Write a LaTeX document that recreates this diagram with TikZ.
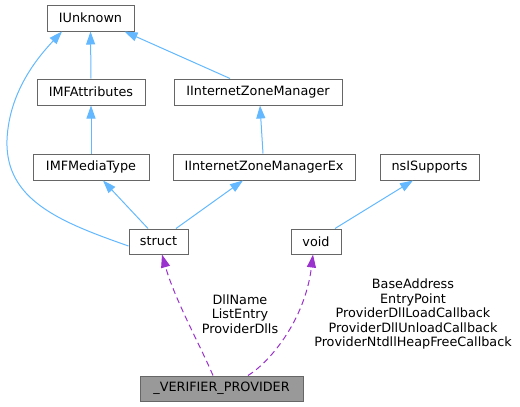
\documentclass[tikz,border=0pt]{standalone}
\usepackage{fontspec}
\setmainfont{DejaVu Sans}
\usetikzlibrary{arrows.meta}
\definecolor{edgeblue}{HTML}{63B8FF}
\definecolor{edgepurple}{HTML}{9A32CD}
\definecolor{boxborder}{HTML}{666666}
\definecolor{boxgray}{HTML}{999999}
\tikzset{
  cls/.style={draw=boxborder, line width=1pt, fill=white, rectangle, minimum height=26pt, inner sep=0pt, font=\fontsize{12.8}{14.5}\selectfont},
  focus/.style={cls, fill=boxgray},
  inherit/.style={draw=edgeblue, line width=1pt, -{Triangle[length=13pt,width=9pt]}},
  usage/.style={draw=edgepurple, line width=1pt, dash pattern=on 6pt off 4pt, -{Triangle[length=13pt,width=9pt]}},
  lbl/.style={align=center, inner sep=0pt, font=\fontsize{12.8}{14.5}\selectfont}
}
\begin{document}
\begin{tikzpicture}[x=1pt,y=-1pt]
\useasboundingbox (0,0) rectangle (520,407);
\node[cls, minimum width=87pt]  (iunk)   at (90.5,18) {IUnknown};
\node[cls, minimum width=108pt] (attr)   at (91,92) {IMFAttributes};
\node[cls, minimum width=168pt] (izm)    at (258,92) {IInternetZoneManager};
\node[cls, minimum width=116pt] (media)  at (91,167) {IMFMediaType};
\node[cls, minimum width=182pt] (izmex)  at (264,167) {IInternetZoneManagerEx};
\node[cls, minimum width=99pt]  (nsi)    at (429.5,167) {nsISupports};
\node[cls, minimum width=59pt, minimum height=25pt] (struct) at (158.5,241.5) {struct};
\node[cls, minimum width=50pt, minimum height=25pt] (void)   at (316,241.5) {void};
\node[focus, minimum width=163pt, minimum height=25pt] (vp) at (221.5,388.5) {\_VERIFIER\_PROVIDER};

\draw[inherit] (attr.north) -- (iunk.south);
\draw[inherit] ([xshift=-28pt]izm.north) -- ([xshift=34pt]iunk.south);
\draw[inherit] ([yshift=-4.5pt]struct.west) .. controls (60,222) and (5,200) .. (7,140)
   .. controls (9,90) and (40,55) .. ([xshift=-28.5pt]iunk.south);
\draw[inherit] (media.north) -- (attr.north |- attr.south);
\draw[inherit] ([xshift=-1pt]izmex.north) -- ([xshift=2pt]izm.south);
\draw[inherit] ([xshift=-10.5pt]struct.north) -- ([xshift=12pt]media.south);
\draw[inherit] ([xshift=17.5pt]struct.north) -- ([xshift=-21pt]izmex.south);
\draw[inherit] ([xshift=19pt]void.north) -- ([xshift=-16.5pt]nsi.south);

\draw[usage] ([xshift=-8.5pt]vp.north) .. controls (200,345) and (175,300) .. ([xshift=3.5pt]struct.south);
\draw[usage] ([xshift=26.5pt]vp.north) .. controls (270,362) and (305,320) .. ([xshift=-3pt]void.south);

\node[lbl] (l1) at (240,314) {DllName\\ListEntry\\ProviderDlls};
\node[lbl] (l2) at (413,314) {BaseAddress\\EntryPoint\\ProviderDllLoadCallback\\ProviderDllUnloadCallback\\ProviderNtdllHeapFreeCallback};
\end{tikzpicture}
\end{document}
